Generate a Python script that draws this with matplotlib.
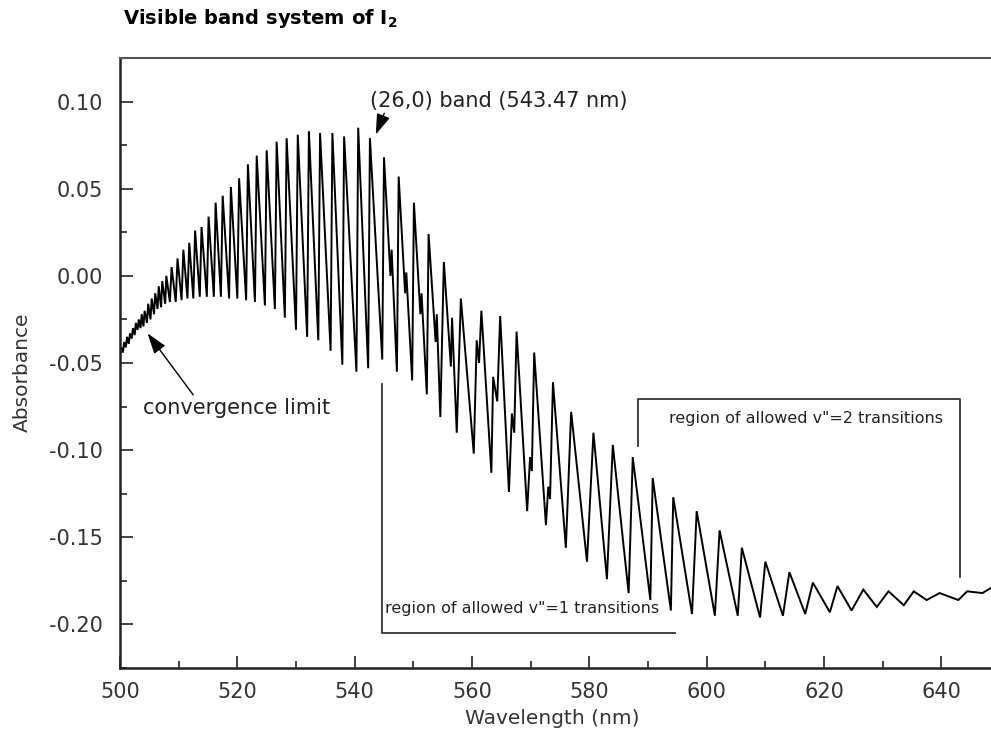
"""Visible absorption band system of I2 (absorbance vs wavelength)."""

import matplotlib

matplotlib.use("Agg")
import matplotlib.pyplot as plt
import numpy as np
from matplotlib.ticker import MultipleLocator

# Each band: the trough just before the sharp band head, then the band peak.
# The v"=1 hot bands (545-575 nm) are listed in the same order as they occur.
trough_nm = [
    500.0, 500.5, 501.0, 501.5, 502.0, 502.5, 503.0, 503.5, 504.0, 504.6,
    505.2, 505.8, 506.4, 507.0, 507.7, 508.5, 509.5, 510.5, 511.5, 512.5,
    513.6, 514.8, 516.0, 517.2, 518.6, 520.0, 521.5, 523.0, 524.7, 526.4,
    528.1, 530.0, 531.9, 533.8, 535.9, 537.9, 540.3, 542.3, 544.7, 546.1,
    547.2, 548.6, 549.8, 551.2, 552.3, 553.8, 554.6, 556.4, 557.4, 560.3,
    561.2, 563.3, 564.3, 566.3, 567.2, 569.4, 570.2, 572.6, 573.3, 576.0,
    579.6, 583.0, 586.7, 590.4, 593.9, 597.5, 601.4, 605.3, 609.1, 613.0,
    616.8, 621.0, 624.7, 629.0, 633.6, 637.5, 642.9, 647.0, 649.3,
]
trough_abs = [
    -0.046, -0.044, -0.041, -0.039, -0.036, -0.034, -0.031, -0.030, -0.029, -0.027,
    -0.025, -0.022, -0.019, -0.018, -0.016, -0.015, -0.015, -0.014, -0.013, -0.013,
    -0.012, -0.012, -0.012, -0.012, -0.013, -0.013, -0.014, -0.015, -0.017, -0.019,
    -0.024, -0.031, -0.035, -0.037, -0.043, -0.051, -0.055, -0.053, -0.048, 0.000,
    -0.055, -0.010, -0.060, -0.022, -0.068, -0.038, -0.081, -0.052, -0.090, -0.102,
    -0.050, -0.113, -0.072, -0.124, -0.090, -0.135, -0.112, -0.143, -0.128, -0.156,
    -0.164, -0.174, -0.182, -0.186, -0.192, -0.194, -0.195, -0.195, -0.196, -0.195,
    -0.194, -0.193, -0.192, -0.190, -0.189, -0.186, -0.186, -0.182, -0.180,
]
peak_nm = [
    500.2, 500.7, 501.2, 501.7, 502.2, 502.7, 503.2, 503.7, 504.2, 504.8,
    505.4, 506.0, 506.6, 507.2, 507.9, 508.8, 509.8, 510.8, 511.8, 512.8,
    513.9, 515.1, 516.3, 517.5, 518.9, 520.3, 521.8, 523.3, 525.0, 526.7,
    528.4, 530.3, 532.2, 534.1, 536.2, 538.2, 540.6, 542.6, 545.0, 546.3,
    547.5, 548.8, 550.1, 551.4, 552.6, 554.0, 555.2, 556.6, 558.1, 560.8,
    561.6, 563.6, 564.8, 566.8, 567.6, 569.9, 570.6, 573.0, 573.8, 576.9,
    580.7, 584.0, 587.4, 590.8, 594.3, 598.3, 602.2, 606.0, 610.0, 614.1,
    618.1, 622.3, 626.7, 631.0, 635.3, 639.7, 644.4, 648.5, 650.0,
]
peak_abs = [
    -0.041, -0.038, -0.035, -0.033, -0.030, -0.027, -0.025, -0.022, -0.020, -0.016,
    -0.013, -0.010, -0.006, -0.003, 0.000, 0.005, 0.010, 0.015, 0.019, 0.026,
    0.028, 0.034, 0.042, 0.046, 0.051, 0.056, 0.064, 0.069, 0.072, 0.077,
    0.079, 0.081, 0.083, 0.082, 0.082, 0.080, 0.085, 0.079, 0.068, 0.015,
    0.057, 0.002, 0.042, -0.010, 0.024, -0.022, 0.008, -0.024, -0.013, -0.037,
    -0.020, -0.058, -0.023, -0.079, -0.032, -0.104, -0.044, -0.121, -0.061, -0.078,
    -0.090, -0.097, -0.104, -0.116, -0.127, -0.135, -0.146, -0.156, -0.164, -0.170,
    -0.176, -0.178, -0.180, -0.181, -0.181, -0.182, -0.181, -0.179, -0.178,
]

x_ticks = [500, 520, 540, 560, 580, 600, 620, 640]
y_ticks = [-0.20, -0.15, -0.10, -0.05, 0.00, 0.05, 0.10]

wavelength = np.column_stack([trough_nm, peak_nm]).ravel()
absorbance = np.column_stack([trough_abs, peak_abs]).ravel()

W, H = 991, 747
fig = plt.figure(figsize=(W / 100, H / 100), dpi=100)
# axes run to 650 nm, a little past the right edge of the picture
ax = fig.add_axes([120 / W, 79 / H, 880 / W, 610 / H])
ax.plot(wavelength, absorbance, color="black", lw=1.4, solid_joinstyle="miter")

ax.set_xlim(500, 650)
ax.set_ylim(-0.225, 0.125)
ax.set_xticks(x_ticks)
ax.set_yticks(y_ticks)
ax.set_xticklabels([str(v) for v in x_ticks])
ax.set_yticklabels([f"{v:.2f}" for v in y_ticks])
ax.xaxis.set_minor_locator(MultipleLocator(10))
ax.yaxis.set_minor_locator(MultipleLocator(0.025))
ax.tick_params(which="both", direction="in", top=False, right=False, width=1.2, colors="#222222")
ax.tick_params(which="major", length=9)
ax.tick_params(which="minor", length=5)
ax.tick_params(axis="y", labelsize=15, pad=12, labelcolor="#333333")
ax.tick_params(axis="x", labelsize=15, pad=10, labelcolor="#333333")
for side in ("left", "bottom"):
    ax.spines[side].set_linewidth(1.8)
    ax.spines[side].set_color("#222222")
ax.spines["top"].set_linewidth(1.5)
ax.spines["top"].set_color("#555555")

fig.text(123 / W, 1 - 19 / H, r"Visible band system of $\mathbf{I_2}$",
         fontsize=14, fontweight="bold", ha="left", va="center")
fig.text(22 / W, 1 - 372 / H, "Absorbance", fontsize=14.5, rotation=90,
         ha="center", va="center", color="#333333")
fig.text(552 / W, 1 - 718 / H, "Wavelength (nm)", fontsize=14.5,
         ha="center", va="center", color="#333333")

arrow = dict(arrowstyle="-|>,head_length=0.9,head_width=0.3", color="black",
             lw=1.0, mutation_scale=14, shrinkA=0, shrinkB=0)
ax.annotate("(26,0) band (543.47 nm)", xy=(543.6, 0.0811), xytext=(542.6, 0.1006),
            fontsize=15, ha="left", va="center", color="#222222",
            arrowprops=dict(arrow, relpos=(0.06, 0.0)))
ax.annotate("convergence limit", xy=(504.7, -0.0330), xytext=(503.9, -0.0756),
            fontsize=15, ha="left", va="center", color="#222222",
            arrowprops=dict(arrow, relpos=(0.28, 1.0)))

# brackets marking the v"=1 and v"=2 regions
ax.plot([544.67, 544.67, 594.6], [-0.0618, -0.2052, -0.2052], color="#333333", lw=1.3)
ax.plot([588.3, 588.3, 643.2, 643.2], [-0.0974, -0.0704, -0.0704, -0.1725],
        color="#333333", lw=1.3)
ax.text(545.2, -0.1909, 'region of allowed v"=1 transitions', fontsize=11.5,
        ha="left", va="center", color="#222222")
ax.text(593.6, -0.0819, 'region of allowed v"=2 transitions', fontsize=11.5,
        ha="left", va="center", color="#222222")

fig.savefig("out.png", dpi=100)
